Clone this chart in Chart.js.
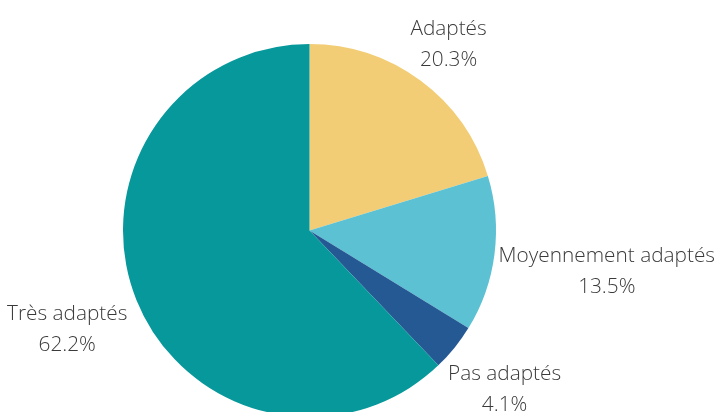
<!DOCTYPE html>
<html>
<head>
<meta charset="utf-8">
<script src="https://cdn.jsdelivr.net/npm/chart.js@4.4.1/dist/chart.umd.min.js"></script>
<style>
  html, body { margin: 0; padding: 0; background: #ffffff; overflow: hidden; }
  #wrap { position: relative; width: 722px; height: 420px; }
</style>
</head>
<body>
<div id="wrap"><canvas id="c"></canvas></div>
<script>
const categories = ['Adaptés', 'Moyennement adaptés', 'Pas adaptés', 'Très adaptés'];
const shares = [20.3, 13.5, 4.1, 62.2];
const sliceColors = ['#F2CD75', '#5CC1D3', '#255994', '#07989C'];

const FONT_SIZE = 20.8;
const LINE_GAP = 31;
const LABEL_FONT = '300 ' + FONT_SIZE + 'px "Open Sans"';

const outsideLabels = {
  id: 'outsideLabels',
  afterDraw(chart) {
    const ctx = chart.ctx;
    const meta = chart.getDatasetMeta(0);
    const data = chart.data.datasets[0].data;
    ctx.save();
    ctx.font = LABEL_FONT;
    ctx.fillStyle = '#3a3a3a';
    ctx.textAlign = 'center';
    ctx.textBaseline = 'alphabetic';
    const cap = FONT_SIZE * 0.72;
    meta.data.forEach((arc, i) => {
      const p = arc.getProps(['x', 'y', 'startAngle', 'endAngle', 'outerRadius'], true);
      const mid = (p.startAngle + p.endAngle) / 2;
      const vx = Math.cos(mid), vy = Math.sin(mid);
      const lines = [chart.data.labels[i], data[i].toFixed(1) + '%'];
      const w = Math.max(...lines.map(t => ctx.measureText(t).width));
      const h = (lines.length - 1) * LINE_GAP + cap;
      const ext = Math.sqrt(Math.pow(w / 2 * vx, 2) + Math.pow(h / 2 * vy, 2));
      const d = p.outerRadius + 18 + ext;
      let cx = p.x + d * vx;
      const cy = p.y + d * vy;
      const margin = 7;
      if (cx + w / 2 > chart.width - margin) cx = chart.width - margin - w / 2;
      if (cx - w / 2 < margin) cx = margin + w / 2;
      const top = cy - h / 2;
      lines.forEach((t, k) => {
        ctx.fillText(t, cx, top + cap + k * LINE_GAP);
      });
    });
    ctx.restore();
  }
};

new Chart(document.getElementById('c'), {
  type: 'pie',
  data: {
    labels: categories,
    datasets: [{
      data: shares,
      backgroundColor: sliceColors,
      borderWidth: 0
    }]
  },
  options: {
    responsive: true,
    maintainAspectRatio: false,
    animation: false,
    layout: { padding: { left: 123, right: 226, top: 44, bottom: 3 } },
    plugins: {
      legend: { display: false },
      tooltip: { enabled: false }
    }
  },
  plugins: [outsideLabels]
});
</script>
</body>
</html>
